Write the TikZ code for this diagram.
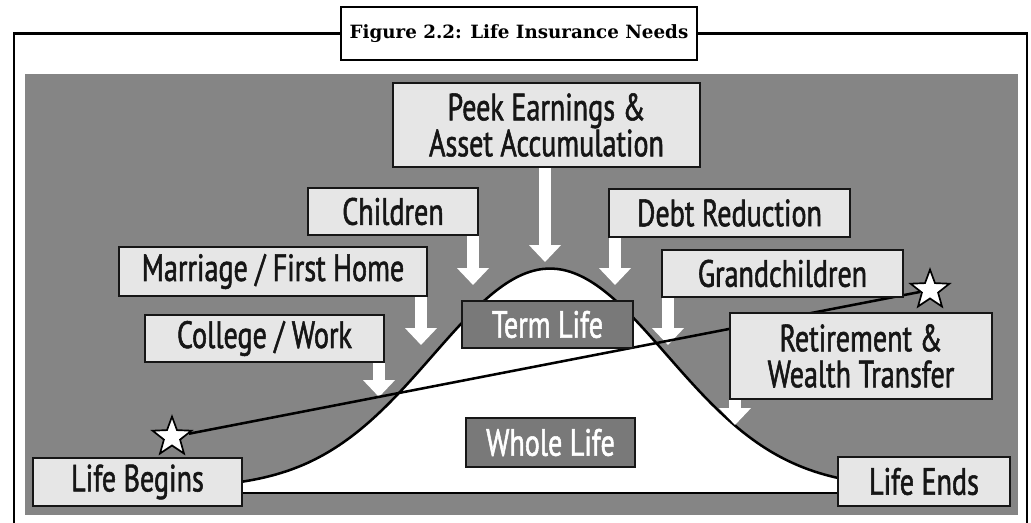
\documentclass[tikz,border=0pt]{standalone}
\usepackage{fontspec}
\usepackage{tikz}
\usetikzlibrary{arrows.meta,backgrounds,calc,positioning,shapes.geometric}
\newfontfamily\needfont[FakeStretch=0.74,FakeBold=1.4]{PT Sans}
\newfontfamily\titlefont{DejaVu Serif}
\definecolor{bggray}{HTML}{858585}
\definecolor{boxgray}{HTML}{E6E6E6}
\definecolor{lifegray}{HTML}{797979}
\definecolor{inkgray}{HTML}{161616}

\tikzset{
  need/.style={draw=inkgray, line width=1.2pt, fill=boxgray, text=inkgray, inner sep=0pt,
    align=center, font=\needfont\fontsize{27pt}{25.6pt}\selectfont},
  cover/.style={need, fill=lifegray, text=white},
  needarrow/.style={white, line width=9.2pt, -{Triangle[length=12pt,width=22pt]}},
  lifestar/.style={star, star points=5, star point ratio=2.4, draw=black, line width=1.2pt,
    fill=white, minimum size=29pt, inner sep=0pt}
}

\begin{document}
\begin{tikzpicture}[x=0.025cm, y=-0.025cm]
\useasboundingbox (0,0) rectangle (1031,523);
\node[draw, line width=1.5pt, fill=white, minimum width=8.9cm, minimum height=1.325cm, inner sep=0pt,
  font=\titlefont\bfseries\fontsize{13pt}{15pt}\selectfont] (title) at (519,33.5)
  {Figure 2.2: Life Insurance Needs};
\draw[line width=1.5pt] (title.west) -| (14,523);
\draw[line width=1.5pt] (title.east) -| (1027,523);

\node[need, minimum width=7.675cm, minimum height=2.1cm] (peek) at (546.5,125) {Peek Earnings \&\\Asset Accumulation};
\node[need, minimum width=4.25cm, minimum height=1.175cm] (children) at (393,211.5) {Children};
\node[need, minimum width=6.025cm, minimum height=1.2cm] (debt) at (729.5,213) {Debt Reduction};
\node[need, minimum width=7.7cm, minimum height=1.225cm] (marriage) at (273,271.5) {Marriage / First Home};
\node[need, minimum width=6.025cm, minimum height=1.175cm] (grand) at (782.5,273.5) {Grandchildren};
\node[need, minimum width=5.975cm, minimum height=1.175cm] (college) at (264.5,338.5) {College / Work};
\node[need, minimum width=6.55cm, minimum height=2.15cm] (retire) at (861,356) {Retirement \&\\Wealth Transfer};
\node[need, minimum width=5.225cm, minimum height=1.2cm] (begins) at (137.5,482) {Life Begins};
\node[need, minimum width=4.3cm, minimum height=1.225cm] (ends) at (924,481.5) {Life Ends};
\node[cover, minimum width=4.275cm, minimum height=1.175cm] (term) at (547.5,324.5) {Term Life};
\node[cover, minimum width=4.225cm, minimum height=1.225cm] (whole) at (550.5,442.5) {Whole Life};

\node[lifestar] (star begins) at (172,437) {};
\node[lifestar] (star ends) at (930,290) {};

\begin{scope}[on background layer]
\fill[bggray] (25,74) rectangle (1018,515);
\fill[white] (begins.east |- 0,493) -- plot[domain=242:838, samples=90, smooth]
  (\x, {482-220*(exp(-0.5*((\x-550)/117)*((\x-550)/117))-0.03)}) -- (ends.west |- 0,493) -- cycle;
\draw[line width=1.8pt] plot[domain=242:838, samples=90, smooth]
  (\x, {482-220*(exp(-0.5*((\x-550)/117)*((\x-550)/117))-0.03)});
\draw[line width=1.8pt] (begins.east |- 0,493) -- (ends.west |- 0,493);
\foreach \src/\tx/\ty in {peek/545/262, children/473/285, debt/615/285, marriage/421/345,
  grand/668/345, college/379/397, retire/735/425}
{
  \coordinate (tip \src) at (\tx,\ty);
  \draw[needarrow] (\src.south -| tip \src) -- (tip \src);
}
\draw[line width=1.8pt] (star begins) -- (star ends);
\end{scope}
\end{tikzpicture}
\end{document}
